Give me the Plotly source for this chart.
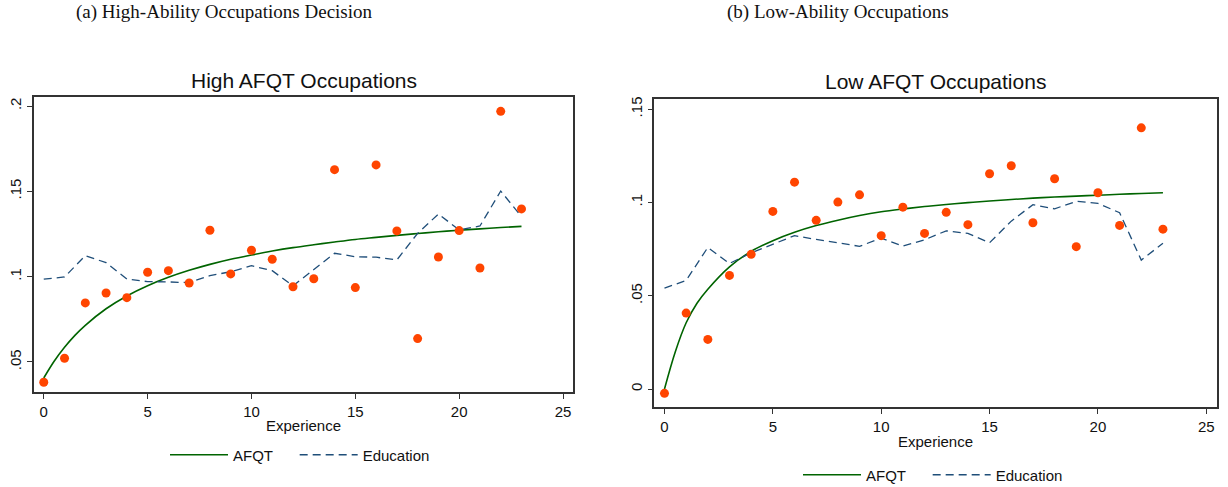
import plotly.graph_objects as go

# ---------------- data ----------------
experience = list(range(24))

# High AFQT occupations
high_dots = [0.0381, 0.0522, 0.0846, 0.0904, 0.0877, 0.1026, 0.1035, 0.0963, 0.1272, 0.1016,
             0.1155, 0.1102, 0.0941, 0.0988, 0.1627, 0.0936, 0.1655, 0.1268, 0.0637, 0.1115,
             0.1270, 0.1051, 0.1969, 0.1397]
high_edu = [0.0985, 0.0998, 0.1123, 0.1082, 0.0986, 0.0971, 0.0969, 0.0965, 0.1006, 0.1029,
            0.1064, 0.1035, 0.0946, 0.1039, 0.1137, 0.1117, 0.1114, 0.1098, 0.1254, 0.1367,
            0.1274, 0.1297, 0.1502, 0.1352]

# Low AFQT occupations
low_dots = [-0.0023, 0.0407, 0.0266, 0.0609, 0.0722, 0.0952, 0.1109, 0.0904, 0.1002, 0.1041,
            0.0822, 0.0975, 0.0834, 0.0947, 0.0881, 0.1154, 0.1197, 0.0891, 0.1127, 0.0763,
            0.1052, 0.0877, 0.1400, 0.0857]
low_edu = [0.0541, 0.0582, 0.0759, 0.0673, 0.0730, 0.0775, 0.0822, 0.0802, 0.0784, 0.0765,
           0.0809, 0.0766, 0.0800, 0.0848, 0.0834, 0.0784, 0.0900, 0.0988, 0.0966, 0.1006,
           0.0995, 0.0945, 0.0691, 0.0781]

# AFQT fitted curves
curve_x = [0, 0.5, 1, 1.5, 2, 3, 4, 5, 6, 7, 8, 9, 10, 11, 12, 13, 14, 15, 16, 17, 18, 19, 20, 21, 22, 23]
high_afqt = [0.0406, 0.0504, 0.0586, 0.0656, 0.0715, 0.0812, 0.0887, 0.0947, 0.0996, 0.1037,
             0.1072, 0.1102, 0.1127, 0.1150, 0.1170, 0.1187, 0.1203, 0.1218, 0.1230, 0.1242,
             0.1253, 0.1263, 0.1272, 0.1280, 0.1288, 0.1295]
low_afqt = [0.0, 0.0200, 0.0355, 0.0460, 0.0535, 0.0655, 0.0738, 0.0795, 0.0840, 0.0876,
            0.0905, 0.0930, 0.0950, 0.0965, 0.0978, 0.0989, 0.0999, 0.1008, 0.1016, 0.1023,
            0.1029, 0.1034, 0.1039, 0.1044, 0.1048, 0.1052]

x_ticks = [0, 5, 10, 15, 20, 25]
high_yticks = [0.05, 0.10, 0.15, 0.20]
high_ytext = [".05", ".1", ".15", ".2"]
low_yticks = [0.0, 0.05, 0.10, 0.15]
low_ytext = ["0", ".05", ".1", ".15"]

# ---------------- styles ----------------
W, H = 1228, 487
SANS = "Liberation Sans, Arial, sans-serif"
SERIF = "Liberation Serif, Times New Roman, serif"
GREEN = "#006400"
NAVY = "#1f4e79"
DOT = "#ff4500"
AX = "#333333"
PAD = "\u00a0" * 4  # spacing after first legend entry

fig = go.Figure()

def add_panel(xa, ya, afqt, edu, dots, legend):
    fig.add_trace(go.Scatter(x=curve_x, y=afqt, mode="lines", name="AFQT" + PAD,
                             line=dict(color=GREEN, width=1.6, shape="spline"),
                             xaxis=xa, yaxis=ya, legend=legend, showlegend=True))
    fig.add_trace(go.Scatter(x=experience, y=edu, mode="lines", name="Education",
                             line=dict(color=NAVY, width=1.3, dash="8px,5px"),
                             xaxis=xa, yaxis=ya, legend=legend, showlegend=True))
    fig.add_trace(go.Scatter(x=experience, y=dots, mode="markers", name="data",
                             marker=dict(color=DOT, size=9, line=dict(width=0)),
                             xaxis=xa, yaxis=ya, showlegend=False))

add_panel("x", "y", high_afqt, high_edu, high_dots, "legend")
add_panel("x2", "y2", low_afqt, low_edu, low_dots, "legend2")

def xaxis_cfg(domain):
    return dict(domain=domain, range=[-0.47, 25.48], tickvals=x_ticks, automargin=False,
                ticks="outside", ticklen=5, tickwidth=1.2, tickcolor=AX,
                showline=True, linecolor=AX, linewidth=1.5, mirror=True,
                showgrid=False, zeroline=False,
                tickfont=dict(family=SANS, size=15, color="#111111"),
                title=dict(text="Experience", font=dict(family=SANS, size=15, color="#111111"),
                           standoff=2))

def yaxis_cfg(domain, rng, vals, text, anchor):
    return dict(domain=domain, range=rng, tickvals=vals, ticktext=text, anchor=anchor,
                automargin=False,
                ticks="outside", ticklen=5, tickwidth=1.2, tickcolor=AX, tickangle=-90,
                showline=True, linecolor=AX, linewidth=1.5, mirror=True,
                showgrid=False, zeroline=False,
                tickfont=dict(family=SANS, size=15, color="#111111"))

leg_common = dict(orientation="h", xanchor="center", yanchor="middle",
                  font=dict(family=SANS, size=15, color="#111111"), bgcolor="rgba(0,0,0,0)",
                  itemwidth=58, traceorder="normal")

fig.update_layout(
    width=W, height=H,
    margin=dict(l=0, r=0, t=0, b=0, autoexpand=False),
    paper_bgcolor="white", plot_bgcolor="white",
    xaxis=dict(**xaxis_cfg([34 / W, 573 / W]), anchor="y"),
    yaxis=yaxis_cfg([1 - 392 / H, 1 - 97 / H], [0.0324, 0.2053], high_yticks, high_ytext, "x"),
    xaxis2=dict(**xaxis_cfg([654.3 / W, 1216.7 / W]), anchor="y2"),
    yaxis2=yaxis_cfg([1 - 407.3 / H, 1 - 99.3 / H], [-0.0098, 0.1553], low_yticks, low_ytext, "x2"),
    legend=dict(**leg_common, x=300 / W, y=1 - 455 / H),
    legend2=dict(**leg_common, x=933 / W, y=1 - 475 / H),
    showlegend=True,
    annotations=[
        dict(text="(a) High-Ability Occupations Decision", x=224 / W, y=1 - 12 / H,
             xref="paper", yref="paper", showarrow=False, xanchor="center", yanchor="middle",
             font=dict(family=SERIF, size=19, color="#111111")),
        dict(text="(b) Low-Ability Occupations", x=838 / W, y=1 - 12 / H,
             xref="paper", yref="paper", showarrow=False, xanchor="center", yanchor="middle",
             font=dict(family=SERIF, size=19, color="#111111")),
        dict(text="High AFQT Occupations", x=303.5 / W, y=1 - 81 / H,
             xref="paper", yref="paper", showarrow=False, xanchor="center", yanchor="middle",
             font=dict(family=SANS, size=21, color="#111111")),
        dict(text="Low AFQT Occupations", x=935.5 / W, y=1 - 82 / H,
             xref="paper", yref="paper", showarrow=False, xanchor="center", yanchor="middle",
             font=dict(family=SANS, size=21, color="#111111")),
    ],
)

fig.write_html("out.html", config={"displayModeBar": False},
               post_script="document.body.style.margin='0';document.body.style.overflow='hidden';")
